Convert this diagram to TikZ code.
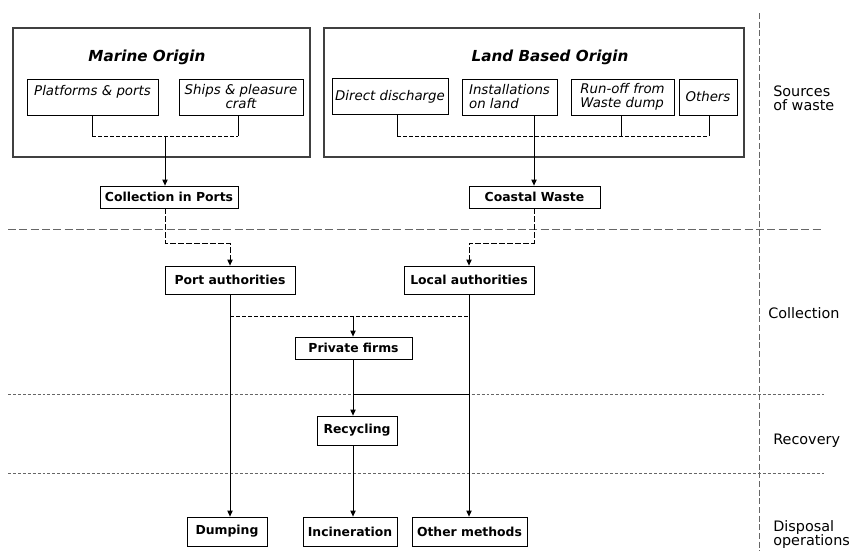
\documentclass[tikz,border=0pt]{standalone}
\usepackage{fontspec}
\setmainfont{DejaVu Sans}
\usetikzlibrary{positioning, arrows.meta, calc}

\tikzset{
  box/.style={draw, line width=0.6pt, inner sep=1pt, font=\fontsize{9.3}{11}\selectfont\bfseries},
  subbox/.style={draw, line width=0.6pt, inner sep=1pt, font=\fontsize{10}{10.5}\selectfont\itshape},
  groupbox/.style={draw=black!75, line width=0.9pt},
  grouptitle/.style={font=\fontsize{11.4}{13}\selectfont\bfseries\itshape},
  sidelabel/.style={anchor=west, align=left, inner sep=0pt, font=\fontsize{10.8}{10.5}\selectfont},
  flow/.style={line width=0.6pt, -{Triangle[length=4.5pt, width=4pt]}},
  link/.style={line width=0.6pt},
  dlink/.style={line width=0.6pt, dash pattern=on 3pt off 1.5pt},
  sep/.style={draw=black!60, line width=0.75pt, dash pattern=on 2.2pt off 1.5pt}
}

\begin{document}
\begin{tikzpicture}[x=0.75pt, y=-0.75pt]
\useasboundingbox (0,0) rectangle (852,551);

% separators
\draw[sep, dash pattern=on 6pt off 2.5pt] (8,229) -- (823,229);
\draw[sep] (8,394) -- (824,394);
\draw[sep] (8,473) -- (824,473);
\draw[sep, dash pattern=on 4.5pt off 2pt] (759,13) -- (759,551);

% sources of waste
\node[groupbox, minimum width=222.75pt, minimum height=96.75pt] (marine) at (161.5,92.5) {};
\node[grouptitle] (marinetitle) at (147,57) {Marine Origin};
\node[subbox, minimum width=98.25pt, minimum height=27pt, align=center] (platforms) at (92.5,97) {Platforms \& ports\\ \mbox{}};
\node[subbox, minimum width=93pt, minimum height=27pt, align=center] (ships) at (241,97) {Ships \& pleasure\\craft};

\node[groupbox, minimum width=315pt, minimum height=96.75pt] (land) at (534,92.5) {};
\node[grouptitle] (landtitle) at (550,57) {Land Based Origin};
\node[subbox, minimum width=87pt, minimum height=27pt] (direct) at (390,96.5) {Direct discharge};
\node[subbox, minimum width=71.25pt, minimum height=27pt, align=left] (install) at (509.5,97) {Installations\\on land};
\node[subbox, minimum width=77.25pt, minimum height=27pt, align=left] (runoff) at (622.5,97) {Run-off from\\Waste dump};
\node[subbox, minimum width=43.5pt, minimum height=27pt] (others) at (708,97) {Others};

\coordinate (mjoin) at (165,136);
\coordinate (ljoin) at (534,136);
\draw[link] (platforms.south -| 92,0) -- (92,136);
\draw[link] (ships.south -| 238,0) -- (238,136);
\draw[dlink] (92,136) -- (238,136);
\draw[link] (direct.south -| 397,0) -- (397,136);
\draw[link] (runoff.south -| 621,0) -- (621,136);
\draw[link] (others.south -| 709,0) -- (709,136);
\draw[dlink] (397,136) -- (709,136);

\node[box, minimum width=103.5pt, minimum height=16.5pt] (colports) at (169,197) {Collection in Ports};
\node[box, minimum width=98.25pt, minimum height=16.5pt] (coastal) at (534.5,197) {Coastal Waste};
\draw[flow] (mjoin) -- (mjoin |- colports.north);
\draw[flow] (install.south -| ljoin) -- (ljoin |- coastal.north);

% collection
\node[box, minimum width=97.5pt, minimum height=21pt] (portauth) at (230,280) {Port authorities};
\node[box, minimum width=97.5pt, minimum height=21pt] (localauth) at (469,280) {Local authorities};
\node[box, minimum width=87.75pt, minimum height=16.5pt] (private) at (353.5,348) {Private firms};
\draw[dlink, -{Triangle[length=4.5pt, width=4pt]}, dash pattern=on 4pt off 2pt] (colports.south -| mjoin) |- (230,243) -- (portauth.north);
\draw[dlink, -{Triangle[length=4.5pt, width=4pt]}, dash pattern=on 4pt off 2pt] (coastal.south -| ljoin) |- (469,243) -- (localauth.north);
\draw[dlink] (230,316) -- (469,316);
\draw[flow] (353,316) -- (private.north -| 353,0);

% recovery
\node[box, minimum width=60pt, minimum height=21.75pt] (recycling) at (357,430.5) {Recycling};
\draw[flow] (private.south -| 353,0) -- (recycling.north -| 353,0);
\draw[link] (353,394) -- (469,394);

% disposal operations
\node[box, minimum width=60pt, minimum height=21.75pt] (dumping) at (227,531.5) {Dumping};
\node[box, minimum width=70.5pt, minimum height=21.75pt] (incin) at (350,531.5) {Incineration};
\node[box, minimum width=86.25pt, minimum height=21.75pt] (othermeth) at (469.5,531.5) {Other methods};
\draw[flow] (portauth.south) -- (dumping.north -| portauth.south);
\draw[flow] (recycling.south -| 353,0) -- (incin.north -| 353,0);
\draw[flow] (localauth.south) -- (othermeth.north -| localauth.south);

% stages
\node[sidelabel] (lsources) at (773,98) {Sources\\of waste};
\node[sidelabel] (lcollect) at (768,313) {Collection};
\node[sidelabel] (lrecover) at (773,441) {Recovery};
\node[sidelabel] (ldisposal) at (773,535) {Disposal\\operations};
\end{tikzpicture}
\end{document}
